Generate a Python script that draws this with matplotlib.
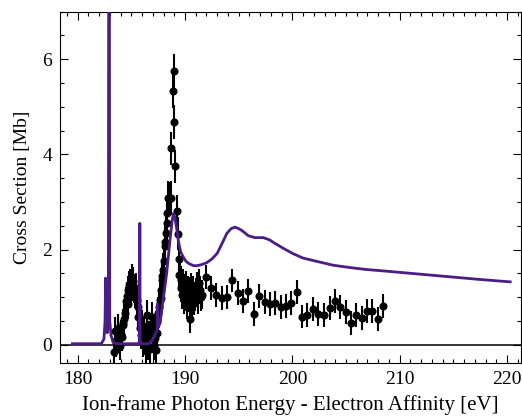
from __future__ import annotations

import matplotlib

matplotlib.use("Agg")
import matplotlib.pyplot as plt
import numpy as np
from matplotlib.ticker import MultipleLocator

low_energy = [183.38, 183.48, 183.55, 183.63, 183.72, 183.79, 183.87, 183.94, 184.02, 184.10,
              184.18, 184.25, 184.33, 184.41, 184.50, 184.58, 184.65, 184.72, 184.80, 184.87,
              184.95, 185.03, 185.10, 185.18, 185.26, 185.34, 185.42, 185.50, 185.58, 185.65]
low_xsec = [-0.16, 0.28, 0.05, 0.10, 0.30, 0.35, 0.12, -0.03, 0.22, 0.17,
            0.45, 0.42, 0.55, 0.66, 0.91, 1.02, 0.85, 1.15, 1.25, 1.29,
            1.10, 1.22, 1.40, 1.33, 1.18, 1.08, 1.20, 0.94, 0.80, 0.59]

gap_energy = [185.80, 185.88, 185.96, 186.04, 186.11, 186.19, 186.27, 186.37, 186.43, 186.49,
              186.58, 186.66, 186.74, 186.82, 186.90, 186.99, 187.07, 187.14, 187.22, 187.30]
gap_xsec = [0.35, 0.20, 0.42, 0.05, 0.17, 0.30, 0.08, -0.12, 0.25, 0.63,
            -0.03, 0.20, -0.10, 0.35, 0.59, 0.25, 0.10, -0.03, 0.15, -0.12]

peak_energy = [187.36, 187.42, 187.51, 187.60, 187.67, 187.73, 187.76, 187.83, 187.90, 187.98,
               188.04, 188.10, 188.17, 188.23, 188.30, 188.35, 188.45, 188.51, 188.70, 188.72,
               188.85, 188.97, 189.00, 189.10, 189.22, 189.35, 189.40, 189.47]
peak_xsec = [0.49, 0.24, 0.66, 0.80, 0.94, 0.98, 1.15, 1.36, 1.45, 1.57,
             1.75, 2.07, 2.15, 2.35, 2.56, 2.77, 3.08, 3.06, 3.08, 4.13,
             5.33, 5.75, 4.68, 3.75, 2.80, 2.33, 1.80, 1.47]

dense_energy = [189.53, 189.60, 189.66, 189.72, 189.78, 189.84, 189.90, 189.96, 190.02, 190.08,
                190.14, 190.20, 190.26, 190.32, 190.38, 190.44, 190.50, 190.56, 190.62, 190.68,
                190.74, 190.80, 190.86, 190.93, 191.00, 191.09, 191.17, 191.24, 191.32, 191.40,
                191.48, 191.55]
dense_xsec = [1.47, 1.20, 1.36, 1.05, 1.29, 1.10, 0.95, 1.19, 1.00, 1.25,
              1.08, 0.85, 1.15, 0.98, 1.12, 0.55, 0.94, 1.20, 1.05, 0.88,
              1.15, 1.00, 0.92, 1.01, 1.10, 1.22, 0.95, 1.08, 1.30, 1.15,
              1.00, 1.05]

tail_energy = [191.93, 192.42, 192.92, 193.42, 193.91, 194.41, 194.91, 195.41, 195.90, 196.40,
               196.93, 197.43, 197.92, 198.42, 198.92, 199.41, 199.91, 200.47, 200.90, 201.40,
               201.93, 202.43, 202.99, 203.48, 203.98, 204.48, 204.97, 205.47, 205.96, 206.47,
               206.96, 207.46, 207.99, 208.48]
tail_xsec = [1.42, 1.19, 1.05, 0.98, 1.01, 1.35, 1.08, 0.91, 1.12, 0.65,
             1.03, 0.89, 0.86, 0.87, 0.79, 0.82, 0.87, 1.11, 0.59, 0.63,
             0.75, 0.65, 0.63, 0.77, 0.91, 0.79, 0.68, 0.45, 0.63, 0.56,
             0.70, 0.70, 0.54, 0.82]

# error bar half-lengths per group (Mb)
group_errors = [0.30, 0.30, 0.35, 0.30, 0.25]

# theory curve
theory_energy = [179.5, 182.2, 182.45, 182.55, 182.6, 182.65, 182.75, 182.86, 182.89, 182.95,
                 182.99, 183.1, 183.3, 183.6, 185.7, 185.76, 185.79, 185.82, 185.9, 186.6,
                 186.9, 187.2, 187.4, 187.44, 187.48, 187.67, 187.98, 188.29, 188.6, 188.8,
                 188.92, 189.05, 189.22, 189.4, 189.6, 189.84, 190.1, 190.4, 190.8, 191.1,
                 191.5, 192.0, 192.5, 193.0, 193.5, 193.9, 194.3, 194.66, 195.0, 195.3,
                 195.9, 196.5, 197.3, 197.9, 198.3, 199.2, 200.1, 201.0, 202.3, 203.8,
                 205.4, 206.9, 208.5, 210.0, 212.5, 215.0, 217.5, 220.3]
theory_xsec = [0.02, 0.02, 0.12, 0.5, 1.40, 0.5, 0.25, 0.5, 8.0, 8.0,
               0.5, 0.2, 0.05, 0.02, 0.02, 0.1, 2.55, 0.1, 0.02, 0.02,
               0.08, 0.2, 0.30, 0.86, 0.35, 0.45, 0.97, 1.50, 2.20, 2.60,
               2.76, 2.68, 2.45, 2.15, 1.95, 1.84, 1.75, 1.70, 1.66, 1.66,
               1.68, 1.72, 1.80, 1.92, 2.15, 2.34, 2.44, 2.47, 2.44, 2.40,
               2.29, 2.25, 2.25, 2.20, 2.14, 2.02, 1.91, 1.82, 1.75, 1.67,
               1.62, 1.58, 1.55, 1.52, 1.47, 1.42, 1.37, 1.32]

x_ticks = [180, 190, 200, 210, 220]
y_ticks = [0, 2, 4, 6]

THEORY_COLOR = "#4a1d85"


def plot_cross_section(output_path: str) -> None:
    plt.rcParams["font.family"] = ["Liberation Serif", "DejaVu Serif"]

    fig = plt.figure(figsize=(5.22, 4.16), dpi=100)
    ax = fig.add_axes([0.1155, 0.128, 0.8825, 0.844])

    ax.axhline(0.0, color="black", lw=1.1, zorder=1)

    groups = [
        (low_energy, low_xsec),
        (gap_energy, gap_xsec),
        (peak_energy, peak_xsec),
        (dense_energy, dense_xsec),
        (tail_energy, tail_xsec),
    ]
    for (energy, xsec), err in zip(groups, group_errors):
        ax.errorbar(
            energy,
            xsec,
            yerr=np.full(len(xsec), err),
            fmt="o",
            color="black",
            ms=4.8,
            elinewidth=1.5,
            capsize=0,
            zorder=2,
        )

    ax.plot(theory_energy, theory_xsec, color=THEORY_COLOR, lw=2.0, zorder=3)

    ax.set_xlim(178.38, 221.3)
    ax.set_ylim(-0.38, 7.0)
    ax.set_xticks(x_ticks)
    ax.set_yticks(y_ticks)
    ax.xaxis.set_minor_locator(MultipleLocator(1))
    ax.yaxis.set_minor_locator(MultipleLocator(0.5))
    ax.tick_params(which="both", direction="in", top=True, right=True, labelsize=14, width=0.8)
    ax.tick_params(which="major", length=6, pad=6)
    ax.tick_params(which="minor", length=3)
    for spine in ax.spines.values():
        spine.set_linewidth(0.8)

    ax.set_xlabel("Ion-frame Photon Energy - Electron Affinity [eV]", fontsize=15, labelpad=5)
    ax.set_ylabel("Cross Section [Mb]", fontsize=14, labelpad=8)

    fig.savefig(output_path, dpi=100)
    plt.close(fig)


def main() -> None:
    plot_cross_section("out.png")


if __name__ == "__main__":
    main()
